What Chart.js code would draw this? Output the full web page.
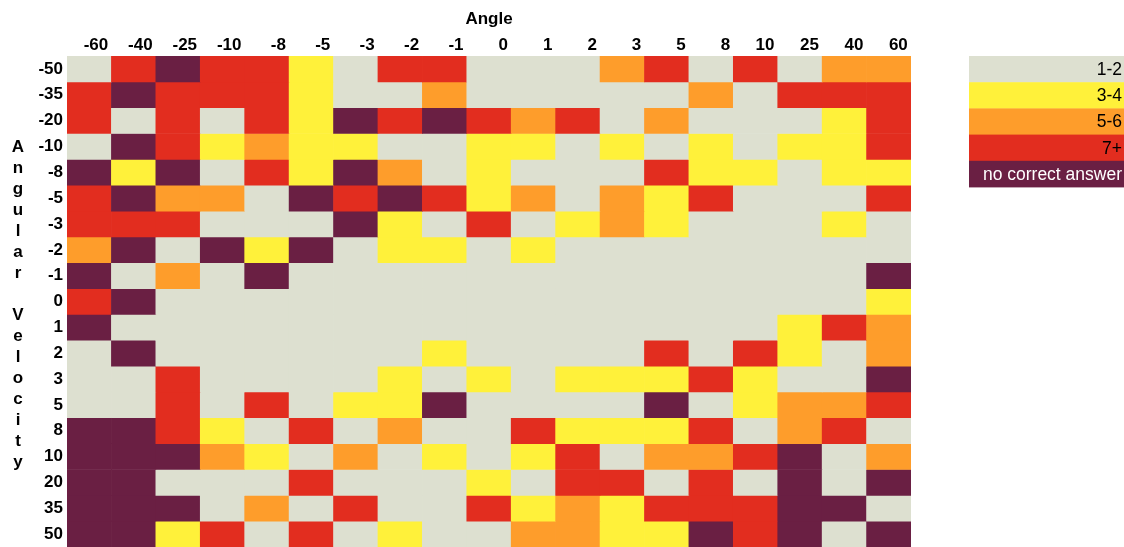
<!DOCTYPE html>
<html>
<head>
<meta charset="utf-8">
<script src="https://cdn.jsdelivr.net/npm/chart.js@4/dist/chart.umd.min.js"></script>
<style>
  html, body { margin: 0; padding: 0; background: #ffffff; }
  #wrap { width: 1124px; height: 547px; }
</style>
</head>
<body>
<div id="wrap"><canvas id="chart" width="1124" height="547"></canvas></div>
<script>
// Column and row categories
const angles = ['-60', '-40', '-25', '-10', '-8', '-5', '-3', '-2', '-1', '0', '1', '2', '3', '5', '8', '10', '25', '40', '60'];
const velocities = ['-50', '-35', '-20', '-10', '-8', '-5', '-3', '-2', '-1', '0', '1', '2', '3', '5', '8', '10', '20', '35', '50'];

// Bucket per cell: 0 = no correct answer, 1 = 1-2, 2 = 3-4, 3 = 5-6, 4 = 7+
const vel_m50 = [1, 4, 0, 4, 4, 2, 1, 4, 4, 1, 1, 1, 3, 4, 1, 4, 1, 3, 3];
const vel_m35 = [4, 0, 4, 4, 4, 2, 1, 1, 3, 1, 1, 1, 1, 1, 3, 1, 4, 4, 4];
const vel_m20 = [4, 1, 4, 1, 4, 2, 0, 4, 0, 4, 3, 4, 1, 3, 1, 1, 1, 2, 4];
const vel_m10 = [1, 0, 4, 2, 3, 2, 2, 1, 1, 2, 2, 1, 2, 1, 2, 1, 2, 2, 4];
const vel_m8  = [0, 2, 0, 1, 4, 2, 0, 3, 1, 2, 1, 1, 1, 4, 2, 2, 1, 2, 2];
const vel_m5  = [4, 0, 3, 3, 1, 0, 4, 0, 4, 2, 3, 1, 3, 2, 4, 1, 1, 1, 4];
const vel_m3  = [4, 4, 4, 1, 1, 1, 0, 2, 1, 4, 1, 2, 3, 2, 1, 1, 1, 2, 1];
const vel_m2  = [3, 0, 1, 0, 2, 0, 1, 2, 2, 1, 2, 1, 1, 1, 1, 1, 1, 1, 1];
const vel_m1  = [0, 1, 3, 1, 0, 1, 1, 1, 1, 1, 1, 1, 1, 1, 1, 1, 1, 1, 0];
const vel_0   = [4, 0, 1, 1, 1, 1, 1, 1, 1, 1, 1, 1, 1, 1, 1, 1, 1, 1, 2];
const vel_1   = [0, 1, 1, 1, 1, 1, 1, 1, 1, 1, 1, 1, 1, 1, 1, 1, 2, 4, 3];
const vel_2   = [1, 0, 1, 1, 1, 1, 1, 1, 2, 1, 1, 1, 1, 4, 1, 4, 2, 1, 3];
const vel_3   = [1, 1, 4, 1, 1, 1, 1, 2, 1, 2, 1, 2, 2, 2, 4, 2, 1, 1, 0];
const vel_5   = [1, 1, 4, 1, 4, 1, 2, 2, 0, 1, 1, 1, 1, 0, 1, 2, 3, 3, 4];
const vel_8   = [0, 0, 4, 2, 1, 4, 1, 3, 1, 1, 4, 2, 2, 2, 4, 1, 3, 4, 1];
const vel_10  = [0, 0, 0, 3, 2, 1, 3, 1, 2, 1, 2, 4, 1, 3, 3, 4, 0, 1, 3];
const vel_20  = [0, 0, 1, 1, 1, 4, 1, 1, 1, 2, 1, 4, 4, 1, 4, 1, 0, 1, 0];
const vel_35  = [0, 0, 0, 1, 3, 1, 4, 1, 1, 4, 2, 3, 2, 4, 4, 4, 0, 0, 1];
const vel_50  = [0, 0, 2, 4, 1, 4, 1, 2, 1, 1, 3, 3, 2, 2, 0, 4, 0, 1, 0];

const velocityRows = [vel_m50, vel_m35, vel_m20, vel_m10, vel_m8, vel_m5, vel_m3, vel_m2, vel_m1,
                      vel_0, vel_1, vel_2, vel_3, vel_5, vel_8, vel_10, vel_20, vel_35, vel_50];

// Legend key
const bucketLabels = ['no correct answer', '1-2', '3-4', '5-6', '7+'];
const legendOrder = [1, 2, 3, 4, 0];
const bucketColors = ['#6a1f43', '#dde0d0', '#fff13a', '#fe9d2b', '#e22d1f'];
const bucketTextColors = ['#ffffff', '#000000', '#000000', '#000000', '#000000'];

const yTitle = 'Angular Velocity';
const FONT = "Arial, 'Liberation Sans', sans-serif";

Chart.defaults.font.family = FONT;

// One dataset per velocity row; each cell is a floating bar spanning its row band
const datasets = velocityRows.map((row, i) => ({
  label: velocities[i],
  data: row.map(() => [i - 0.5, i + 0.5]),
  backgroundColor: row.map(b => bucketColors[b]),
  borderWidth: 0,
  barPercentage: 1,
  categoryPercentage: 1,
  grouped: false
}));

// Stacked-letter vertical title at the left
const verticalTitle = {
  id: 'verticalTitle',
  afterDraw(chart) {
    const { ctx, chartArea } = chart;
    const letters = yTitle.split('').map(ch => ch === ' ' ? '' : ch);
    const lineH = 21;
    const mid = (chartArea.top + chartArea.bottom) / 2 + 8;
    const first = mid - (letters.length - 1) / 2 * lineH;
    ctx.save();
    ctx.font = 'bold 17px ' + FONT;
    ctx.fillStyle = '#000000';
    ctx.textAlign = 'center';
    ctx.textBaseline = 'alphabetic';
    letters.forEach((ch, k) => {
      if (ch) ctx.fillText(ch, 18, first + k * lineH);
    });
    ctx.restore();
  }
};

// Colour key on the right: filled bands with right-aligned labels
const bucketKey = {
  id: 'bucketKey',
  afterDraw(chart) {
    const { ctx, chartArea, width } = chart;
    const left = 969;
    const bandH = 26.2;
    ctx.save();
    ctx.font = '17.5px ' + FONT;
    ctx.textAlign = 'right';
    ctx.textBaseline = 'middle';
    legendOrder.forEach((b, k) => {
      const top = chartArea.top + k * bandH;
      ctx.fillStyle = bucketColors[b];
      ctx.fillRect(left, top, width - left, bandH + 0.4);
      ctx.fillStyle = bucketTextColors[b];
      ctx.fillText(bucketLabels[b], width - 2, top + bandH / 2 + 1);
    });
    ctx.restore();
  }
};

new Chart(document.getElementById('chart'), {
  type: 'bar',
  data: { labels: angles, datasets },
  options: {
    responsive: false,
    animation: false,
    events: [],
    layout: { padding: { left: 0, right: 213, top: 0, bottom: 0 } },
    plugins: {
      legend: { display: false },
      tooltip: { enabled: false },
      title: { display: false }
    },
    scales: {
      x: {
        type: 'category',
        position: 'top',
        offset: true,
        grid: { display: false, drawTicks: false },
        border: { display: false },
        ticks: {
          color: '#000000',
          font: { size: 17, weight: 'bold' },
          align: 'end',
          labelOffset: 19,
          padding: 0,
          maxRotation: 0,
          autoSkip: false
        },
        title: {
          display: true,
          text: 'Angle',
          color: '#000000',
          font: { size: 17, weight: 'bold' },
          padding: { top: 9, bottom: 0 }
        },
        afterFit(scale) {
          scale.height = 56;
          scale.paddingLeft = 0;
          scale.paddingRight = 0;
        }
      },
      y: {
        type: 'linear',
        min: -0.5,
        max: 18.5,
        reverse: true,
        grid: { display: false, drawTicks: false },
        border: { display: false },
        afterBuildTicks(scale) {
          scale.ticks = velocities.map((_, i) => ({ value: i }));
        },
        ticks: {
          color: '#000000',
          font: { size: 17, weight: 'bold' },
          padding: 4,
          autoSkip: false,
          callback: (value, index) => velocities[index]
        },
        afterFit(scale) {
          scale.width = 67;
          scale.paddingTop = 0;
          scale.paddingBottom = 0;
        }
      }
    }
  },
  plugins: [verticalTitle, bucketKey]
});
</script>
</body>
</html>
